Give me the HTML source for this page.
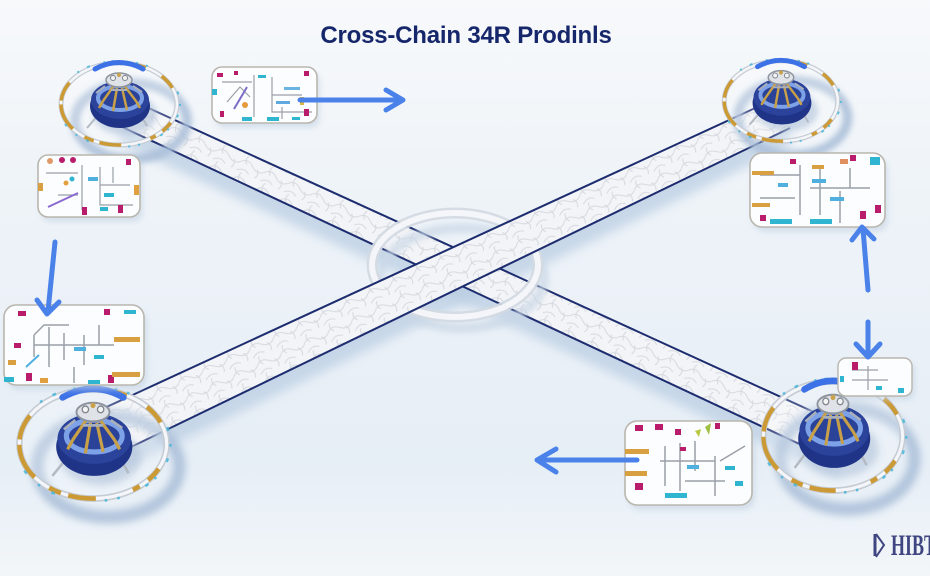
<!DOCTYPE html>
<html><head><meta charset="utf-8"><style>
html,body{margin:0;padding:0;width:930px;height:576px;overflow:hidden;background:#eef3f8;}
svg{display:block;}
</style></head><body>
<svg width="930" height="576" viewBox="0 0 930 576" xmlns="http://www.w3.org/2000/svg">
<defs>
<linearGradient id="bg" x1="0" y1="0" x2="0" y2="1">
<stop offset="0" stop-color="#f7f9fb"/><stop offset="0.35" stop-color="#eef3f8"/><stop offset="0.8" stop-color="#e6eef6"/><stop offset="1" stop-color="#f2f6f9"/>
</linearGradient>
<filter id="b3" x="-30%" y="-30%" width="160%" height="160%"><feGaussianBlur stdDeviation="3"/></filter>
<filter id="b5" x="-30%" y="-30%" width="160%" height="160%"><feGaussianBlur stdDeviation="5"/></filter>
<pattern id="cellsA" width="26" height="18" patternUnits="userSpaceOnUse" patternTransform="rotate(25)">
<path d="M0,9 Q6,2 13,8 T26,9 M6,0 Q3,5 7,9 M19,9 Q23,13 20,18 M0,18 Q7,12 13,17" fill="none" stroke="#cfd3da" stroke-width="1"/>
</pattern>
<pattern id="cellsB" width="26" height="18" patternUnits="userSpaceOnUse" patternTransform="rotate(-25)">
<path d="M0,9 Q6,2 13,8 T26,9 M6,0 Q3,5 7,9 M19,9 Q23,13 20,18 M0,18 Q7,12 13,17" fill="none" stroke="#cfd3da" stroke-width="1"/>
</pattern>
<g id="node">
 <ellipse cx="12" cy="17" rx="56" ry="38" fill="none" stroke="#a9bed8" stroke-width="10" filter="url(#b3)" opacity=".85"/>
 <ellipse cx="6" cy="10" rx="32" ry="21" fill="#9db4d0" filter="url(#b3)" opacity=".6"/>
 <ellipse rx="58" ry="41" fill="rgba(255,255,255,0.2)" stroke="#c6ccd4" stroke-width="5"/>
 <ellipse rx="58" ry="41" fill="none" stroke="#f4f6f9" stroke-width="2.5"/>
 <ellipse rx="58" ry="41" fill="none" stroke="#cc9a35" stroke-width="3.5" stroke-dasharray="0 20 12 8 6 30 22 6 10 14 28 4 20 70 12 18 16 100"/>
 <ellipse rx="61" ry="43" fill="none" stroke="#3db4d8" stroke-width="2" stroke-dasharray="2 9 3 14 2 6 3 22 2 8 2 40 3 10 2 12 3 60" opacity=".8"/>
 <path d="M-24,-35 Q0,-48 24,-35" fill="none" stroke="#3d72e6" stroke-width="5" stroke-linecap="round"/>
 <path d="M-20,10 L-32,24 M21,10 L28,22" stroke="#b4bac3" stroke-width="2"/>
 <ellipse cx="1" cy="2" rx="30" ry="22" fill="#1f3487"/>
 <ellipse cx="1" cy="-4" rx="29" ry="19" fill="#2b439b"/>
 <ellipse cx="1" cy="-6" rx="22" ry="12" fill="#2a4399" stroke="#7ea2e8" stroke-width="4"/>
 <path d="M-4,-20 L-16,-3 M4,-20 L17,-3 M-2,-16 L-6,7 M3,-16 L8,6 M-16,-3 L-20,4 M17,-3 L21,4" stroke="#c8a048" stroke-width="2.5" fill="none"/>
 <path d="M-11,-22 L11,-22 M-14,-18 L-23,-11 M14,-18 L23,-12 M-8,-14 L8,-14" stroke="#a9b0ba" stroke-width="2" fill="none"/>
 <ellipse cx="0" cy="-24" rx="13" ry="7" fill="#dfe2e7" stroke="#8e949e" stroke-width="1.5"/>
 <circle cx="-6" cy="-26" r="2.5" fill="#f4f4f4" stroke="#7d838c"/>
 <circle cx="6" cy="-26" r="2.5" fill="#f4f4f4" stroke="#7d838c"/>
 <circle cx="0" cy="-29" r="2" fill="#c9a24a"/>
</g>
</defs>

<rect width="930" height="576" fill="url(#bg)"/>

<!-- beam shadows -->
<polygon points="120,112 840,440 840,480 120,144" fill="#b8cce2" filter="url(#b5)" opacity=".7"/>
<polygon points="100,428 790,108 790,146 100,480" fill="#b8cce2" filter="url(#b5)" opacity=".7"/>

<!-- beam 1 TL->BR -->
<polygon points="120,95 840,424 840,463 120,126" fill="#f3f4f7"/>
<polygon points="120,95 840,424 840,463 120,126" fill="url(#cellsA)" opacity=".85"/>
<line x1="120" y1="95" x2="840" y2="424" stroke="#1c2c6e" stroke-width="2"/>
<line x1="120" y1="126" x2="840" y2="463" stroke="#1c2c6e" stroke-width="2"/>

<!-- center ring -->
<ellipse cx="462" cy="278" rx="82" ry="50" fill="none" stroke="#c9d7e6" stroke-width="10" filter="url(#b3)" opacity=".7"/>
<ellipse cx="455" cy="265" rx="83" ry="52" fill="none" stroke="#d3d9e1" stroke-width="11" opacity=".9"/>
<ellipse cx="455" cy="265" rx="83" ry="52" fill="none" stroke="#f5f7fa" stroke-width="6" opacity=".95"/>

<!-- beam 2 BL->TR -->
<polygon points="100,410 790,92 790,128 100,462" fill="#f3f4f7"/>
<polygon points="100,410 790,92 790,128 100,462" fill="url(#cellsB)" opacity=".85"/>
<line x1="100" y1="410" x2="790" y2="92" stroke="#1c2c6e" stroke-width="2"/>
<line x1="100" y1="462" x2="790" y2="128" stroke="#1c2c6e" stroke-width="2"/>

<!-- nodes -->
<use href="#node" transform="translate(119,104)"/>
<use href="#node" transform="translate(781,101) scale(0.98)"/>
<use href="#node" transform="translate(93,444) scale(1.27,1.33)"/>
<use href="#node" transform="translate(833,436) scale(1.2,1.33)"/>

<!-- panels -->
<g transform="translate(212,67)">
 <rect x="3" y="5" width="105" height="56" rx="10" fill="#c4d3e3" filter="url(#b3)" opacity=".6"/>
 <rect width="105" height="56" rx="10" fill="#fcfdfe" stroke="#b9b6ae" stroke-width="1.6"/>
 <path d="M10,15 H40 M42,8 V50 M60,10 V45 H100 M60,28 H90 M15,35 L28,20 L38,30 M70,40 V52" stroke="#9aa0a8" stroke-width="1.2" fill="none"/>
 <path d="M22,42 L35,20" stroke="#7d6cc8" stroke-width="2"/>
 <rect x="5" y="6" width="6" height="4" fill="#b81c6a"/><rect x="8" y="44" width="4" height="6" fill="#b81c6a"/><rect x="92" y="4" width="5" height="5" fill="#b81c6a"/><rect x="92" y="42" width="5" height="7" fill="#b81c6a"/><rect x="22" y="4" width="4" height="4" fill="#b81c6a"/>
 <rect x="0" y="22" width="5" height="6" fill="#2fb5cf"/><rect x="30" y="50" width="10" height="4" fill="#2fb5cf"/><rect x="55" y="50" width="12" height="4" fill="#2fb5cf"/><rect x="80" y="50" width="8" height="3" fill="#2fb5cf"/><rect x="46" y="8" width="8" height="3" fill="#2fb5cf"/>
 <circle cx="33" cy="38" r="3" fill="#e59a3a"/><rect x="88" y="30" width="4" height="8" fill="#d8b640"/>
 <rect x="72" y="20" width="16" height="3" fill="#6bb3e0"/><rect x="64" y="34" width="14" height="3" fill="#5fa8e0"/>
</g>
<g transform="translate(38,155)">
 <rect x="3" y="5" width="102" height="62" rx="10" fill="#c4d3e3" filter="url(#b3)" opacity=".6"/>
 <rect width="102" height="62" rx="10" fill="#fcfdfe" stroke="#b9b6ae" stroke-width="1.6"/>
 <path d="M8,18 H40 M44,10 V55 M62,12 V50 H95 M62,30 H92 M20,40 H40 M75,12 V28" stroke="#9aa0a8" stroke-width="1.2" fill="none"/>
 <path d="M10,52 L40,38" stroke="#8a6ad0" stroke-width="2"/>
 <circle cx="12" cy="6" r="3" fill="#e09a6a"/><circle cx="24" cy="5" r="3" fill="#b81c6a"/><circle cx="35" cy="5" r="3" fill="#b81c6a"/><rect x="88" y="4" width="5" height="6" fill="#b81c6a"/>
 <rect x="44" y="52" width="5" height="8" fill="#b81c6a"/><rect x="80" y="50" width="5" height="8" fill="#b81c6a"/>
 <rect x="0" y="28" width="5" height="8" fill="#d8a040"/><rect x="96" y="30" width="5" height="10" fill="#e0a040"/>
 <rect x="50" y="22" width="10" height="4" fill="#4fb0e0"/><rect x="66" y="38" width="10" height="4" fill="#2fb5cf"/><rect x="62" y="52" width="8" height="4" fill="#2fb5cf"/>
 <circle cx="28" cy="28" r="2.5" fill="#e0a040"/><circle cx="34" cy="24" r="2.5" fill="#2fb5cf"/>
</g>
<g transform="translate(4,305)">
 <rect x="3" y="5" width="140" height="80" rx="12" fill="#c4d3e3" filter="url(#b3)" opacity=".6"/>
 <rect width="140" height="80" rx="12" fill="#fcfdfe" stroke="#b9b6ae" stroke-width="1.6"/>
 <path d="M30,40 H110 M30,30 V52 M45,22 V62 M60,28 V55 M80,30 V60 M95,20 V40 M30,30 L40,20 H65 M70,62 V78" stroke="#9aa0a8" stroke-width="1.5" fill="none"/>
 <path d="M35,50 L22,62" stroke="#4fb0e0" stroke-width="2"/>
 <rect x="14" y="6" width="8" height="5" fill="#b81c6a"/><rect x="100" y="4" width="6" height="6" fill="#b81c6a"/><rect x="10" y="38" width="7" height="5" fill="#b81c6a"/><rect x="22" y="68" width="6" height="8" fill="#b81c6a"/><rect x="104" y="70" width="6" height="8" fill="#b81c6a"/>
 <rect x="110" y="32" width="26" height="5" fill="#d8a040"/><rect x="108" y="67" width="28" height="5" fill="#d8a040"/><rect x="36" y="73" width="8" height="5" fill="#e0a040"/><rect x="4" y="55" width="8" height="5" fill="#d8a040"/>
 <rect x="0" y="72" width="10" height="5" fill="#2fb5cf"/><rect x="84" y="75" width="12" height="4" fill="#2fb5cf"/><rect x="70" y="42" width="12" height="4" fill="#4fb0e0"/><rect x="120" y="5" width="12" height="4" fill="#2fb5cf"/><rect x="90" y="50" width="10" height="4" fill="#2fb5cf"/>
</g>
<g transform="translate(750,153)">
 <rect x="3" y="5" width="135" height="74" rx="12" fill="#c4d3e3" filter="url(#b3)" opacity=".6"/>
 <rect width="135" height="74" rx="12" fill="#fcfdfe" stroke="#b9b6ae" stroke-width="1.6"/>
 <path d="M10,22 H50 M50,12 V62 M60,35 H120 M70,14 V62 M90,38 V70 M100,15 V35 M10,45 H45" stroke="#9aa0a8" stroke-width="1.5" fill="none"/>
 <rect x="2" y="18" width="22" height="4" fill="#d8a040"/><rect x="2" y="50" width="18" height="4" fill="#d8a040"/><rect x="62" y="12" width="12" height="4" fill="#d8a040"/>
 <rect x="40" y="6" width="6" height="5" fill="#b81c6a"/><rect x="100" y="2" width="6" height="6" fill="#b81c6a"/><rect x="125" y="52" width="6" height="8" fill="#b81c6a"/><rect x="110" y="58" width="6" height="8" fill="#b81c6a"/><rect x="10" y="62" width="6" height="6" fill="#b81c6a"/>
 <rect x="120" y="4" width="10" height="8" fill="#2fb5cf"/><rect x="20" y="66" width="22" height="5" fill="#2fb5cf"/><rect x="60" y="66" width="22" height="5" fill="#2fb5cf"/><rect x="90" y="6" width="8" height="5" fill="#e09060"/>
 <rect x="62" y="26" width="14" height="4" fill="#4fb0e0"/><rect x="80" y="44" width="14" height="4" fill="#4fb0e0"/><rect x="28" y="30" width="10" height="4" fill="#4fb0e0"/>
</g>
<g transform="translate(838,358)">
 <rect x="3" y="4" width="74" height="38" rx="8" fill="#c4d3e3" filter="url(#b3)" opacity=".6"/>
 <rect width="74" height="38" rx="8" fill="#fcfdfe" stroke="#b9b6ae" stroke-width="1.4"/>
 <path d="M14,12 H40 M14,22 H50 M30,8 V32" stroke="#9aa0a8" stroke-width="1.2" fill="none"/>
 <rect x="14" y="4" width="6" height="8" fill="#b81c6a"/><rect x="38" y="28" width="6" height="4" fill="#2fb5cf"/><rect x="2" y="18" width="4" height="6" fill="#2fb5cf"/><rect x="60" y="30" width="6" height="5" fill="#2fb5cf"/>
</g>
<g transform="translate(625,421)">
 <rect x="3" y="5" width="127" height="84" rx="12" fill="#c4d3e3" filter="url(#b3)" opacity=".6"/>
 <rect width="127" height="84" rx="12" fill="#fcfdfe" stroke="#b9b6ae" stroke-width="1.6"/>
 <path d="M35,40 H90 M40,25 V65 M55,22 V70 M70,20 V50 M90,35 V75 M95,40 L120,25 M60,60 H100" stroke="#9aa0a8" stroke-width="1.5" fill="none"/>
 <rect x="0" y="28" width="24" height="5" fill="#d8a040"/><rect x="0" y="50" width="22" height="5" fill="#d8a040"/>
 <rect x="10" y="4" width="8" height="6" fill="#b81c6a"/><rect x="30" y="3" width="8" height="6" fill="#b81c6a"/><rect x="50" y="8" width="6" height="6" fill="#b81c6a"/><rect x="10" y="62" width="8" height="7" fill="#b81c6a"/><rect x="55" y="26" width="6" height="4" fill="#b81c6a"/>
 <path d="M80,6 L86,2 L84,14 Z" fill="#a0c040"/><path d="M70,10 L76,8 L74,16 Z" fill="#b8c840"/><rect x="90" y="2" width="5" height="6" fill="#b81c6a"/>
 <rect x="40" y="72" width="22" height="5" fill="#2fb5cf"/><rect x="100" y="45" width="10" height="4" fill="#2fb5cf"/><rect x="62" y="44" width="12" height="4" fill="#4fb0e0"/><rect x="110" y="60" width="8" height="5" fill="#2fb5cf"/>
</g>

<!-- arrows -->
<g stroke="#4a82ea" stroke-width="5" fill="none" stroke-linecap="round" stroke-linejoin="round">
 <line x1="300" y1="100" x2="400" y2="100"/><polyline points="386,90 403,100 386,110"/>
 <line x1="55" y1="242" x2="48" y2="311"/><polyline points="37,300 47,314 59,302"/>
 <line x1="868" y1="290" x2="863" y2="229"/><polyline points="852,240 862,227 874,239"/>
 <line x1="868" y1="322" x2="868" y2="355"/><polyline points="856,344 868,357 880,344"/>
 <line x1="637" y1="460" x2="540" y2="460"/><polyline points="556,449 537,460 556,472"/>
</g>

<!-- title -->
<text x="466" y="43" text-anchor="middle" font-family="Liberation Sans, Arial, sans-serif" font-weight="bold" font-size="24" letter-spacing="-0.2" fill="#16266a">Cross-Chain 34R Prodinls</text>

<!-- logo -->
<path d="M875,534 L875,556" stroke="#3f4580" stroke-width="3"/>
<path d="M876,534 L884,545 L876,557" fill="none" stroke="#3f4580" stroke-width="2"/>
<text transform="translate(891,555) scale(0.6,1)" font-family="Liberation Serif, serif" font-weight="bold" font-size="30" fill="#3f4580">HIBT</text>
</svg>
</body></html>
